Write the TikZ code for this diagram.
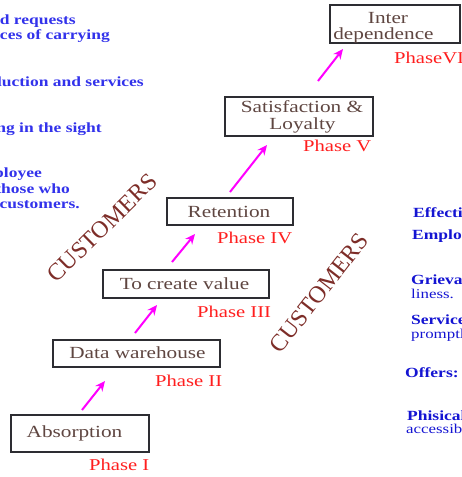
\documentclass[tikz,border=0pt]{standalone}
\usepackage{fontspec}
\setmainfont{Liberation Serif}[FakeStretch=1.25]
\newfontfamily\custfont{Liberation Serif}
\usetikzlibrary{arrows.meta}
\definecolor{boxtext}{RGB}{95,70,65}
\definecolor{phasered}{RGB}{255,30,30}
\definecolor{lblue}{RGB}{50,50,235}
\definecolor{dblue}{RGB}{20,20,210}
\definecolor{custbrown}{RGB}{125,45,40}
\definecolor{arrowmag}{RGB}{255,0,255}
\definecolor{framecol}{RGB}{45,45,50}
\begin{document}
\begin{tikzpicture}[x=1pt,y=-1pt,
  box/.style={draw=framecol, line width=1.8pt, fill=white, inner sep=0pt},
  btext/.style={text=boxtext, font=\fontsize{17}{19}\selectfont, inner sep=0pt, anchor=base},
  phase/.style={text=phasered, font=\fontsize{16.5}{18}\selectfont, inner sep=0pt, anchor=base west},
  cust/.style={text=custbrown, font=\custfont\fontsize{24}{26}\selectfont, inner sep=0pt},
  larrow/.style={draw=arrowmag, line width=2pt, -{Stealth[length=10pt,width=9pt]}},
  ltext/.style={text=lblue, font=\bfseries\fontsize{14}{16}\selectfont, inner sep=0pt, anchor=base east},
  rtext/.style={text=dblue, font=\bfseries\fontsize{14}{16}\selectfont, inner sep=0pt, anchor=base west},
  rtextb/.style={text=dblue, font=\fontsize{13.5}{15}\selectfont, inner sep=0pt, anchor=base west}
]
\useasboundingbox (0,0) rectangle (462,477);
\clip (0,0) rectangle (462,477);

% left side text (cut off)
\node[ltext] (l1) at (76,24) {and requests};
\node[ltext] (l2) at (110,39) {services of carrying};
\node[ltext] (l3) at (144,86) {production and services};
\node[ltext] (l4) at (102,132) {being in the sight};
\node[ltext] (l5) at (42,177) {Employee};
\node[ltext] (l6) at (70,193) {those who};
\node[ltext] (l7) at (80,208) {to customers.};

% right side text (cut off)
\node[rtext] (r1) at (413,217) {Effective};
\node[rtext] (r2) at (412,239) {Employees};
\node[rtext] (r3) at (411,284) {Grievance};
\node[rtextb] (r4) at (411,298) {liness.};
\node[rtext] (r5) at (411,324) {Services};
\node[rtextb] (r6) at (411,338) {promptly};
\node[rtext] (r7) at (405,377) {Offers:};
\node[rtext] (r8) at (407,420) {Phisical};
\node[rtextb] (r9) at (406,433) {accessibility};

% CUSTOMERS labels
\node[cust, rotate=44.5] (c1) at (102,228) {CUSTOMERS};
\node[cust, rotate=52] (c2) at (319,293) {CUSTOMERS};

% boxes
\node[box, minimum width=138pt, minimum height=37pt] (b1) at (80,433.5) {};
\node[box, minimum width=167pt, minimum height=27pt] (b2) at (136.5,353.5) {};
\node[box, minimum width=166pt, minimum height=28pt] (b3) at (186,284) {};
\node[box, minimum width=126pt, minimum height=27pt] (b4) at (230,211.5) {};
\node[box, minimum width=148pt, minimum height=39pt] (b5) at (299,116.5) {};
\node[box, minimum width=130pt, minimum height=38pt] (b6) at (395,24) {};

% box texts
\node[btext] (t1) at (74.5,437) {Absorption};
\node[btext] (t2) at (137.5,358) {Data warehouse};
\node[btext] (t3) at (184.5,289) {To create value};
\node[btext] (t4) at (229,217) {Retention};
\node[btext] (t5a) at (302,112) {Satisfaction \&};
\node[btext] (t5b) at (302.5,129) {Loyalty};
\node[btext] (t6a) at (388,23) {Inter};
\node[btext] (t6b) at (383.5,39) {dependence};

% phase labels
\node[phase] (p1) at (89,470) {Phase I};
\node[phase] (p2) at (155,386) {Phase II};
\node[phase] (p3) at (197,317) {Phase III};
\node[phase] (p4) at (217,243) {Phase IV};
\node[phase] (p5) at (303,151) {Phase V};
\node[phase] (p6) at (394,63) {PhaseVI};

% arrows
\coordinate (a1s) at (82,410);  \coordinate (a1e) at (105,381);
\coordinate (a2s) at (135,333); \coordinate (a2e) at (157,305);
\coordinate (a3s) at (172,262); \coordinate (a3e) at (195,234);
\coordinate (a4s) at (230,192); \coordinate (a4e) at (267,145);
\coordinate (a5s) at (318,81);  \coordinate (a5e) at (343,49);
\draw[larrow] (a1s) -- (a1e);
\draw[larrow] (a2s) -- (a2e);
\draw[larrow] (a3s) -- (a3e);
\draw[larrow] (a4s) -- (a4e);
\draw[larrow] (a5s) -- (a5e);
\end{tikzpicture}
\end{document}
